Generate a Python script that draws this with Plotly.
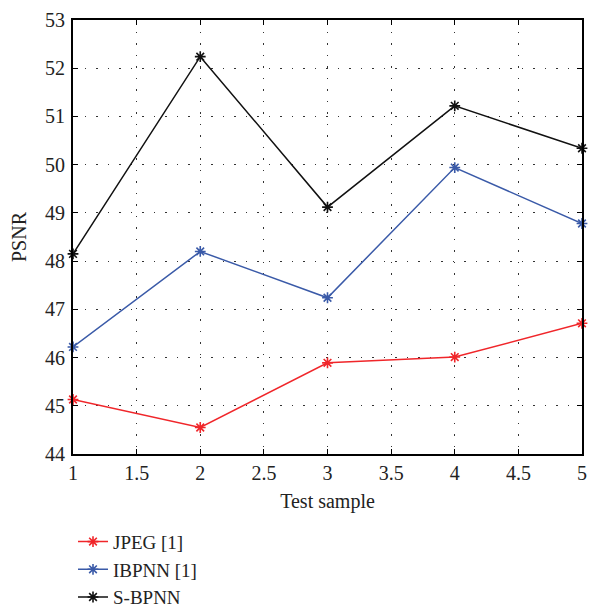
import plotly.graph_objects as go

samples = [1, 2, 3, 4, 5]
jpeg = [45.13, 44.55, 45.89, 46.01, 46.71]
ibpnn = [46.22, 48.2, 47.24, 49.94, 48.78]
sbpnn = [48.15, 52.24, 49.12, 51.22, 50.34]

series = [
    ("JPEG [1]", jpeg, "#f0262a"),
    ("IBPNN [1]", ibpnn, "#3a5aa8"),
    ("S-BPNN", sbpnn, "#111111"),
]

x_ticks = [1, 1.5, 2, 2.5, 3, 3.5, 4, 4.5, 5]
x_tick_labels = ["1", "1.5", "2", "2.5", "3", "3.5", "4", "4.5", "5"]
y_ticks = [44, 45, 46, 47, 48, 49, 50, 51, 52, 53]

FONT = "Liberation Serif"
TXT = "#222222"

fig = go.Figure()
for name, vals, col in series:
    fig.add_trace(go.Scatter(
        x=samples, y=vals, name=name, mode="lines+markers",
        line=dict(color=col, width=1.5),
        marker=dict(symbol="asterisk-open", size=9, color=col,
                    line=dict(color=col, width=1.6)),
        cliponaxis=False,
    ))

axis_common = dict(
    showline=True, linecolor="black", linewidth=2, mirror="allticks",
    ticks="inside", ticklen=5, tickwidth=1, tickcolor="black",
    showgrid=True, gridcolor="#333333", gridwidth=1, griddash="1.5px,10px",
    zeroline=False, automargin=False, ticklabeloverflow="allow",
    tickfont=dict(family=FONT, size=20, color=TXT),
)

fig.update_xaxes(range=[1, 5], tickvals=x_ticks, ticktext=x_tick_labels,
                 title=dict(text="Test sample", font=dict(family=FONT, size=20, color=TXT), standoff=11),
                 **axis_common)
fig.update_yaxes(range=[44, 53], tickvals=y_ticks, ticklabelstandoff=2,
                 title=dict(text="PSNR", font=dict(family=FONT, size=20, color=TXT), standoff=18),
                 **axis_common)

fig.update_layout(
    width=580, height=600,
    margin=dict(l=65, r=6, t=12, b=154, autoexpand=False),
    plot_bgcolor="white", paper_bgcolor="white",
    font=dict(family=FONT, size=20, color=TXT),
    showlegend=True,
    legend=dict(x=0.0, y=-0.375, xanchor="left", yanchor="bottom",
                font=dict(family=FONT, size=19, color=TXT),
                itemwidth=30, bgcolor="rgba(0,0,0,0)"),
)

fig.write_html("out.html")
